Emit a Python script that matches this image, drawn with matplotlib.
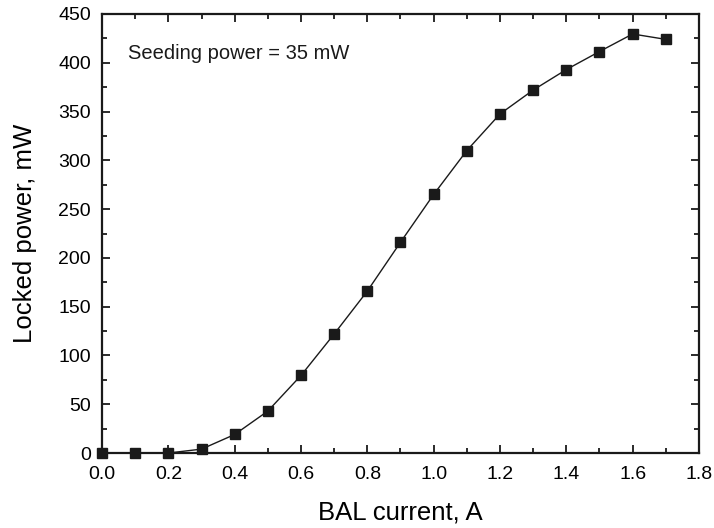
import numpy as np
import matplotlib.pyplot as plt
from matplotlib.ticker import MultipleLocator

plt.rcParams['font.family'] = ['Liberation Sans', 'DejaVu Sans']

# BAL current (A) and locked power (mW)
current = [0.0, 0.1, 0.2, 0.3, 0.4, 0.5, 0.6, 0.7, 0.8, 0.9,
           1.0, 1.1, 1.2, 1.3, 1.4, 1.5, 1.6, 1.7]
power = [0, 0, 0, 4, 19, 43, 79.5, 122, 166, 216,
         265, 310, 347.5, 372, 393, 411.5, 429.5, 424]

fig = plt.figure(figsize=(7.14, 5.28), dpi=100)
ax = fig.add_axes([0.1429, 0.142, 0.836, 0.8315])

ax.plot(current, power, color='#1a1a1a', linewidth=1.0, marker='s',
        markersize=6.5, markerfacecolor='#1a1a1a', markeredgecolor='#1a1a1a',
        clip_on=False, zorder=5)

ax.text(0.078, 409, 'Seeding power = 35 mW', fontsize=14.5, color='#1a1a1a',
        ha='left', va='center')

ax.set_xlim(0, 1.8)
ax.set_ylim(0, 450)
ax.xaxis.set_major_locator(MultipleLocator(0.2))
ax.xaxis.set_minor_locator(MultipleLocator(0.1))
ax.yaxis.set_major_locator(MultipleLocator(50))
ax.yaxis.set_minor_locator(MultipleLocator(25))
ax.xaxis.set_major_formatter(plt.FuncFormatter(lambda v, p: f'{v:.1f}'))

ax.tick_params(which='both', direction='in', top=True, right=True,
               color='#1a1a1a', width=1.3)
ax.tick_params(which='major', length=6, labelsize=14)
ax.tick_params(axis='x', which='major', pad=9)
ax.tick_params(axis='y', which='major', pad=8)
ax.tick_params(which='minor', length=3.5)
for s in ax.spines.values():
    s.set_linewidth(1.6)
    s.set_color('#1a1a1a')

ax.set_xlabel('BAL current, A', fontsize=18.5, labelpad=13)
ax.set_ylabel('Locked power, mW', fontsize=18.5, labelpad=15)

fig.savefig('out.png', dpi=100, facecolor='white')
